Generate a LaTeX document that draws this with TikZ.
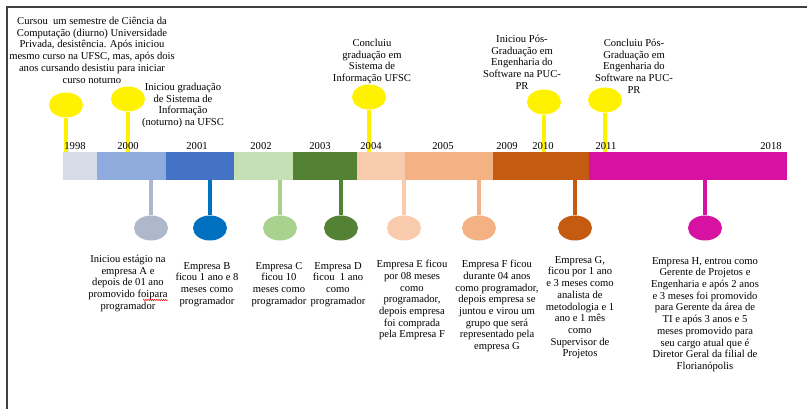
\documentclass[tikz,border=0pt]{standalone}
\usepackage{fontspec}
\setmainfont{Liberation Serif}
\usetikzlibrary{positioning,shapes.geometric,decorations.pathmorphing}
\definecolor{c98}{HTML}{D6DCE5}
\definecolor{c00}{HTML}{8FAADC}
\definecolor{c01}{HTML}{4472C4}
\definecolor{c02}{HTML}{C5E0B4}
\definecolor{c03}{HTML}{548235}
\definecolor{c04}{HTML}{F8CBAD}
\definecolor{c05}{HTML}{F4B183}
\definecolor{c09}{HTML}{C55A11}
\definecolor{c11}{HTML}{D712A2}
\definecolor{pinA}{HTML}{ADB9CA}
\definecolor{pinB}{HTML}{0070C0}
\definecolor{pinC}{HTML}{A9D18E}
\definecolor{frame}{HTML}{404040}

\begin{document}
\begin{tikzpicture}[x=1pt,y=-1pt,font=\fontsize{10.6}{11.7}\selectfont]
\useasboundingbox (0,0) rectangle (807,409);
\tikzset{seg/.style={rectangle,inner sep=0pt,minimum height=28pt,anchor=west}}
\tikzset{pin/.style={ellipse,inner sep=0pt,minimum width=34pt,minimum height=25pt}}
\tikzset{stem/.style={line width=4.5pt}}
\tikzset{year/.style={anchor=base,inner sep=0pt}}
\tikzset{lbl/.style={align=center,anchor=north,inner sep=0pt}}
% moldura
\draw[frame,line width=1.2pt] (7,409) -- (7,7) -- (807,7);
% barra dos anos
\node[seg,fill=c98,minimum width=34pt]  (s98) at (63,166)  {};
\node[seg,fill=c00,minimum width=69pt]  (s00) at (97,166)  {};
\node[seg,fill=c01,minimum width=68pt]  (s01) at (166,166) {};
\node[seg,fill=c02,minimum width=59pt]  (s02) at (234,166) {};
\node[seg,fill=c03,minimum width=64pt]  (s03) at (293,166) {};
\node[seg,fill=c04,minimum width=48pt]  (s04) at (357,166) {};
\node[seg,fill=c05,minimum width=88pt]  (s05) at (405,166) {};
\node[seg,fill=c09,minimum width=96pt]  (s09) at (493,166) {};
\node[seg,fill=c11,minimum width=198pt] (s11) at (589,166) {};
% pinos de cima (estudos)
\node[pin,fill=yellow] (t1) at (66,105)  {};
\node[pin,fill=yellow] (t2) at (128,99)  {};
\node[pin,fill=yellow] (t3) at (369,97)  {};
\node[pin,fill=yellow] (t4) at (544,102) {};
\node[pin,fill=yellow] (t5) at (605,100) {};
\path (t1) edge[stem,yellow] (t1 |- s98.north)
      (t2) edge[stem,yellow] (t2 |- s00.north)
      (t3) edge[stem,yellow] (t3 |- s04.north)
      (t4) edge[stem,yellow] (t4 |- s09.north)
      (t5) edge[stem,yellow] (t5 |- s11.north);
% pinos de baixo (empresas)
\node[pin,fill=pinA] (pA) at (151,228) {};
\node[pin,fill=pinB] (pB) at (210,228) {};
\node[pin,fill=pinC] (pC) at (280,228) {};
\node[pin,fill=c03]  (pD) at (341,228) {};
\node[pin,fill=c04]  (pE) at (404,228) {};
\node[pin,fill=c05]  (pF) at (479,228) {};
\node[pin,fill=c09]  (pG) at (575,228) {};
\node[pin,fill=c11]  (pH) at (705,228) {};
\path (pA) edge[stem,pinA] (pA |- s00.south)
      (pB) edge[stem,pinB] (pB |- s01.south)
      (pC) edge[stem,pinC] (pC |- s02.south)
      (pD) edge[stem,c03]  (pD |- s03.south)
      (pE) edge[stem,c04]  (pE |- s04.south)
      (pF) edge[stem,c05]  (pF |- s05.south)
      (pG) edge[stem,c09]  (pG |- s09.south)
      (pH) edge[stem,c11]  (pH |- s11.south);
% anos
\node[year] (y98) at (75,150)  {1998};
\node[year] (y00) at (128,150) {2000};
\node[year] (y01) at (197,150) {2001};
\node[year] (y02) at (261,150) {2002};
\node[year] (y03) at (320,150) {2003};
\node[year] (y04) at (371,150) {2004};
\node[year] (y05) at (443,150) {2005};
\node[year] (y09) at (507,150) {2009};
\node[year] (y10) at (543,150) {2010};
\node[year] (y11) at (606,150) {2011};
\node[year] (y18) at (771,150) {2018};
% textos de cima
\node[lbl] (e1) at (92,17) {Cursou\ \ um semestre de Ciência da\\Computação (diurno) Universidade\\Privada, desistência. Após iniciou\\mesmo curso na UFSC, mas, após dois\\anos cursando desistiu para iniciar\\curso noturno};
\node[lbl] (e2) at (183,83) {Iniciou graduação\\de Sistema de\\Informação\\(noturno) na UFSC};
\node[lbl] (e3) at (372,39) {Concluiu\\graduação em\\Sistema de\\Informação UFSC};
\node[lbl] (e4) at (522,35) {Iniciou Pós-\\Graduação em\\Engenharia do\\Software na PUC-\\PR};
\node[lbl] (e5) at (634,39) {Concluiu Pós-\\Graduação em\\Engenharia do\\Software na PUC-\\PR};
% textos de baixo
\node[lbl] (eA) at (128,255) {Iniciou estágio na\\empresa A e\\depois de 01 ano\\promovido foipara\\programador};
\node[lbl] (eB) at (207,262) {Empresa B\\ficou 1 ano e 8\\meses como\\programador};
\node[lbl] (eC) at (279,262) {Empresa C\\ficou 10\\meses como\\programador};
\node[lbl] (eD) at (338,262) {Empresa D\\ficou\ \ 1 ano\\como\\programador};
\node[lbl] (eE) at (412,260) {Empresa E ficou\\por 08 meses\\como\\programador,\\depois empresa\\foi comprada\\pela Empresa F};
\node[lbl] (eF) at (497,260) {Empresa F ficou\\durante 04 anos\\como programador,\\depois empresa se\\juntou e virou um\\grupo que será\\representado pela\\empresa G};
\node[lbl] (eG) at (580,256) {Empresa G,\\ficou por 1 ano\\e 3 meses como\\analista de\\metodologia e 1\\ano e 1 mês\\como\\Supervisor de\\Projetos};
\node[lbl] (eH) at (705,257) {Empresa H, entrou como\\Gerente de Projetos e\\Engenharia e após 2 anos\\e 3 meses foi promovido\\para Gerente da área de\\TI e após 3 anos e 5\\meses promovido para\\seu cargo atual que é\\Diretor Geral da filial de\\Florianópolis};
% sublinhado do corretor
\draw[red,line width=0.5pt,decorate,decoration={snake,amplitude=0.7pt,segment length=2.2pt}] (143,300) -- (168,300);
\end{tikzpicture}
\end{document}
